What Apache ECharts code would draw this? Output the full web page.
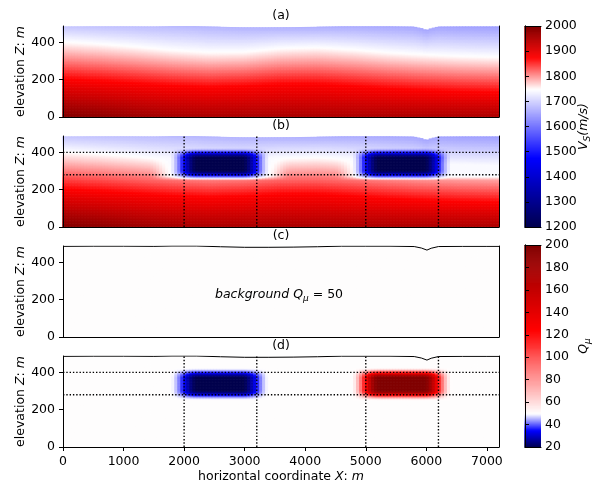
<!DOCTYPE html>
<html>
<head>
<meta charset="utf-8">
<script src="https://cdn.jsdelivr.net/npm/echarts@6/dist/echarts.min.js"></script>
<style>
html, body { margin: 0; padding: 0; background: #fff; }
#chart { width: 595px; height: 484px; }
</style>
</head>
<body>
<div id="chart"></div>
<script>
// axes
var xMax = 7200;
var zMax = 488;
var xTicks = [0, 1000, 2000, 3000, 4000, 5000, 6000, 7000];
var zTicks = [0, 200, 400];
var panelTitles = ['(a)', '(b)', '(c)', '(d)'];

// surface topography (in (c)/(d))
var surfaceX = [0, 500, 1000, 1500, 1800, 2200, 2600, 3000, 3400, 3800, 4200, 4600, 5000, 5400, 5800, 5920, 6010, 6080, 6200, 6600, 7000, 7200];
var surfaceZ = [486, 487, 487, 486, 488, 488, 484, 481, 481, 482, 484, 487, 487, 487, 485, 477, 466, 476, 485, 486, 486, 486];

// background Vs model of (a), read at these x positions
var knotX    = [0, 600, 1200, 1800, 2400, 3000, 3600, 4200, 4800, 5400, 6000, 6600, 7200];
var topVs    = [1690, 1686, 1682, 1677, 1672, 1670, 1668, 1665, 1662, 1658, 1655, 1650, 1648];
var whiteZ   = [406, 395, 380, 362, 350, 352, 370, 375, 364, 348, 337, 329, 324];   // Vs ~ 1750
var redZ     = [206, 195, 183, 170, 162, 168, 178, 178, 168, 155, 145, 138, 134];   // Vs ~ 1875
var bottomVs = [1998, 1988, 1975, 1965, 1960, 1960, 1960, 1958, 1958, 1958, 1958, 1958, 1958];

// anomalies (dotted boxes)
var boxX = [[2000, 3200], [5000, 6200]];
var boxZ = [280, 400];
var boxVs = [1200, 1200];
var boxQ = [20, 200];
var backgroundQ = 50.5;
// near-white zone around the Vs anomalies in (b)
var haloX = [[1640, 3560], [4700, 7500]];
var haloBottom = 265;
var haloVs = 1745;

// colour scales (seismic, centred at 1750 m/s and Q = 50)
var vsRange = [1200, 1750, 2000];
var qRange = [20, 50, 200];

var cellW = 50, cellH = 4;

function interp(xs, ys, x) {
    if (x <= xs[0]) return ys[0];
    for (var i = 1; i < xs.length; i++) {
        if (x <= xs[i]) {
            var f = (x - xs[i - 1]) / (xs[i] - xs[i - 1]);
            return ys[i - 1] + f * (ys[i] - ys[i - 1]);
        }
    }
    return ys[ys.length - 1];
}

function ramp(d, w) {
    var t = Math.min(1, Math.max(0, (d + w) / (2 * w)));
    return t * t * (3 - 2 * t);
}

function boxWeight(x, z, b) {
    return (ramp(x - b[0], 230) - ramp(x - b[1], 230)) * (ramp(z - boxZ[0], 28) - ramp(z - boxZ[1], 28));
}

function vsBackground(x, z) {
    var top = interp(surfaceX, surfaceZ, x);
    var zw = interp(knotX, whiteZ, x);
    var zr = interp(knotX, redZ, x);
    if (z >= zw) return 1750 + (interp(knotX, topVs, x) - 1750) * (z - zw) / (top - zw);
    if (z >= zr) return 1750 + 125 * (zw - z) / (zw - zr);
    return 1875 + (interp(knotX, bottomVs, x) - 1875) * (zr - z) / zr;
}

function vsModel(x, z) {
    var v = vsBackground(x, z);
    var h = 0;
    haloX.forEach(function (hx) {
        h = Math.max(h, (ramp(x - hx[0], 220) - ramp(x - hx[1], 220)) * ramp(z - haloBottom, 14));
    });
    v = v + h * (Math.min(v, haloVs) - v);
    boxX.forEach(function (b, k) {
        var w = boxWeight(x, z, b);
        v = v + w * (boxVs[k] - v);
    });
    return v;
}

function qModel(x, z) {
    var q = backgroundQ;
    boxX.forEach(function (b, k) {
        q += boxWeight(x, z, b) * (boxQ[k] - backgroundQ);
    });
    return q;
}

function buildField(fn, lo, hi) {
    var out = [];
    for (var i = 0; i < xMax / cellW; i++) {
        var x = (i + 0.5) * cellW;
        var top = interp(surfaceX, surfaceZ, x);
        for (var z0 = 0; z0 < top; z0 += cellH) {
            var z1 = Math.min(z0 + cellH, top);
            var v = fn ? fn(x, (z0 + z1) / 2) : backgroundQ;
            out.push([x, z0, Math.min(hi, Math.max(lo, v)), z1]);
        }
    }
    return out;
}

function buildBar(r) {
    var out = [];
    var step = (r[2] - r[0]) / 200;
    for (var k = 0; k < 200; k++) {
        var a = r[0] + k * step;
        out.push([0.5, a, a + step / 2, a + step]);
    }
    return out;
}

var seismic = [[0, 0, 0.3], [0, 0, 1], [1, 1, 1], [1, 0, 0], [0.5, 0, 0]];
function seismicColor(t) {
    var s = Math.min(3.9999, Math.max(0, t * 4));
    var i = Math.floor(s), f = s - i;
    var c = [0, 1, 2].map(function (k) {
        return Math.round(255 * (seismic[i][k] + f * (seismic[i + 1][k] - seismic[i][k])));
    });
    return 'rgb(' + c.join(',') + ')';
}
function colorList(r) {
    var out = [];
    for (var k = 0; k <= 200; k++) {
        var v = r[0] + (r[2] - r[0]) * k / 200;
        var t = v < r[1] ? 0.5 * (v - r[0]) / (r[1] - r[0]) : 0.5 + 0.5 * (v - r[1]) / (r[2] - r[1]);
        out.push(seismicColor(t));
    }
    return out;
}

function renderCell(halfW) {
    return function (params, api) {
        var x = api.value(0);
        var p0 = api.coord([x - halfW, api.value(3)]);
        var p1 = api.coord([x + halfW, api.value(1)]);
        return {
            type: 'rect',
            shape: { x: p0[0] - 0.6, y: p0[1], width: p1[0] - p0[0] + 0.6, height: p1[1] - p0[1] + 0.6 },
            style: { fill: api.visual('color') }
        };
    };
}

var font = 'DejaVu Sans';
var fs = 12.5;
var txt = { fontFamily: font, fontSize: fs, color: '#000' };
var richMath = {
    n: { fontFamily: font, fontSize: fs, color: '#000' },
    i: { fontFamily: font, fontSize: fs, fontStyle: 'italic', color: '#000' },
    s: { fontFamily: font, fontSize: 9, fontStyle: 'italic', color: '#000', padding: [7, 0, 0, 0] }
};
var axisLine = { show: true, lineStyle: { color: '#000', width: 1 } };
var plain = function (v) { return String(v); };

var panelTops = [26, 136, 246, 356];
var grids = [], xAxes = [], yAxes = [], series = [];

panelTops.forEach(function (top, i) {
    grids.push({ left: 63, width: 436, top: top, height: 91 });
    xAxes.push({
        gridIndex: i, type: 'value', min: 0, max: xMax, z: 5,
        axisLine: axisLine,
        axisTick: { show: i === 3, customValues: xTicks, length: 4, lineStyle: { color: '#000' } },
        axisLabel: Object.assign({ show: i === 3, customValues: xTicks, margin: 8, formatter: plain }, txt),
        splitLine: { show: false },
        name: i === 3 ? '{n|horizontal coordinate }{i|X}{n|: }{i|m}' : '',
        nameLocation: 'middle', nameGap: 23, nameMoveOverlap: false,
        nameTextStyle: Object.assign({ rich: richMath }, txt)
    });
});
// colorbar grids
grids.push({ left: 525, width: 16, top: 26, height: 201 });
grids.push({ left: 525, width: 16, top: 245, height: 202 });
[4, 5].forEach(function (g) {
    xAxes.push({ gridIndex: g, type: 'value', min: 0, max: 1, z: 5, axisLine: axisLine, axisTick: { show: false }, axisLabel: { show: false }, splitLine: { show: false } });
});
[4, 5].forEach(function (g) {
    xAxes.push({ gridIndex: g, type: 'value', position: 'top', min: 0, max: 1, z: 5, axisLine: axisLine, axisTick: { show: false }, axisLabel: { show: false }, splitLine: { show: false } });
});

panelTops.forEach(function (top, i) {
    yAxes.push({
        gridIndex: i, type: 'value', min: 0, max: zMax, z: 5,
        axisLine: axisLine,
        axisTick: { customValues: zTicks, length: 4, lineStyle: { color: '#000' } },
        axisLabel: Object.assign({ customValues: zTicks, margin: 8, formatter: plain }, txt),
        splitLine: { show: false },
        name: '{n|elevation }{i|Z}{n|: }{i|m}',
        nameLocation: 'middle', nameRotate: 90, nameGap: 36, nameMoveOverlap: false,
        nameTextStyle: Object.assign({ rich: richMath }, txt)
    });
});
panelTops.forEach(function (top, i) {
    yAxes.push({ gridIndex: i, type: 'value', position: 'right', min: 0, max: zMax, z: 5, axisLine: axisLine, axisTick: { show: false }, axisLabel: { show: false }, splitLine: { show: false } });
});
[[vsRange, 100, '{i|V}{s|S}{i|(m/s)}'], [qRange, 20, '{i|Q}{s|μ}']].forEach(function (c, k) {
    yAxes.push({
        gridIndex: 4 + k, type: 'value', position: 'right', min: c[0][0], max: c[0][2], interval: c[1], z: 5,
        axisLine: axisLine,
        axisTick: { length: 4, lineStyle: { color: '#000' } },
        axisLabel: Object.assign({ margin: 4, formatter: plain }, txt),
        splitLine: { show: false },
        name: c[2], nameLocation: 'middle', nameRotate: 90, nameGap: 35, nameMoveOverlap: false,
        nameTextStyle: Object.assign({ rich: richMath }, txt)
    });
});
[4, 5].forEach(function (g, k) {
    yAxes.push({ gridIndex: g, type: 'value', position: 'left', min: k ? qRange[0] : vsRange[0], max: k ? qRange[2] : vsRange[2], z: 5, axisLine: axisLine, axisTick: { show: false }, axisLabel: { show: false }, splitLine: { show: false } });
});

// field cells: series 0..3
var fields = [
    buildField(vsBackground, vsRange[0], vsRange[2]),
    buildField(vsModel, vsRange[0], vsRange[2]),
    buildField(null, qRange[0], qRange[2]),
    buildField(qModel, qRange[0], qRange[2])
];
fields.forEach(function (d, i) {
    series.push({
        type: 'custom', xAxisIndex: i, yAxisIndex: i, z: 1, silent: true, progressive: 0,
        renderItem: renderCell(cellW / 2), encode: { x: 0, y: 1 }, data: d
    });
});
// colorbars: series 4, 5
series.push({ type: 'custom', xAxisIndex: 4, yAxisIndex: 8, z: 1, silent: true, renderItem: renderCell(0.5), encode: { x: 0, y: 1 }, data: buildBar(vsRange) });
series.push({ type: 'custom', xAxisIndex: 5, yAxisIndex: 9, z: 1, silent: true, renderItem: renderCell(0.5), encode: { x: 0, y: 1 }, data: buildBar(qRange) });

// surface line on (c) and (d)
var surface = surfaceX.map(function (x, k) { return [x, surfaceZ[k]]; });
[2, 3].forEach(function (i) {
    series.push({ type: 'line', xAxisIndex: i, yAxisIndex: i, z: 4, silent: true, symbol: 'none', data: surface, lineStyle: { color: '#000', width: 1 } });
});

// dotted anomaly outlines on (b) and (d)
var dotted = { color: '#000', width: 1.4, type: [1.4, 1.9] };
[1, 3].forEach(function (i) {
    boxZ.forEach(function (z) {
        series.push({ type: 'line', xAxisIndex: i, yAxisIndex: i, z: 4, silent: true, symbol: 'none', data: [[0, z], [xMax, z]], lineStyle: dotted });
    });
    boxX.forEach(function (b) {
        b.forEach(function (x) {
            series.push({ type: 'line', xAxisIndex: i, yAxisIndex: i, z: 4, silent: true, symbol: 'none', data: [[x, 0], [x, zMax]], lineStyle: dotted });
        });
    });
});

var graphics = panelTitles.map(function (t, i) {
    return { type: 'text', z: 10, x: 281, y: panelTops[i] - 10, style: { text: t, font: fs + 'px "DejaVu Sans"', fill: '#000', textAlign: 'center', textVerticalAlign: 'middle' } };
});
graphics.push({
    type: 'text', z: 10, x: 279, y: 295,
    style: {
        text: '{i|background Q}{s|μ}{n| = 50}', textAlign: 'center', textVerticalAlign: 'middle',
        rich: richMath
    }
});

var chart = echarts.init(document.getElementById('chart'), null, { renderer: 'canvas' });
chart.setOption({
    animation: false,
    backgroundColor: '#fff',
    grid: grids,
    xAxis: xAxes,
    yAxis: yAxes,
    visualMap: [
        { type: 'continuous', show: false, min: vsRange[0], max: vsRange[2], dimension: 2, seriesIndex: [0, 1, 4], inRange: { color: colorList(vsRange) } },
        { type: 'continuous', show: false, min: qRange[0], max: qRange[2], dimension: 2, seriesIndex: [2, 3, 5], inRange: { color: colorList(qRange) } }
    ],
    series: series,
    graphic: graphics
});
</script>
</body>
</html>
